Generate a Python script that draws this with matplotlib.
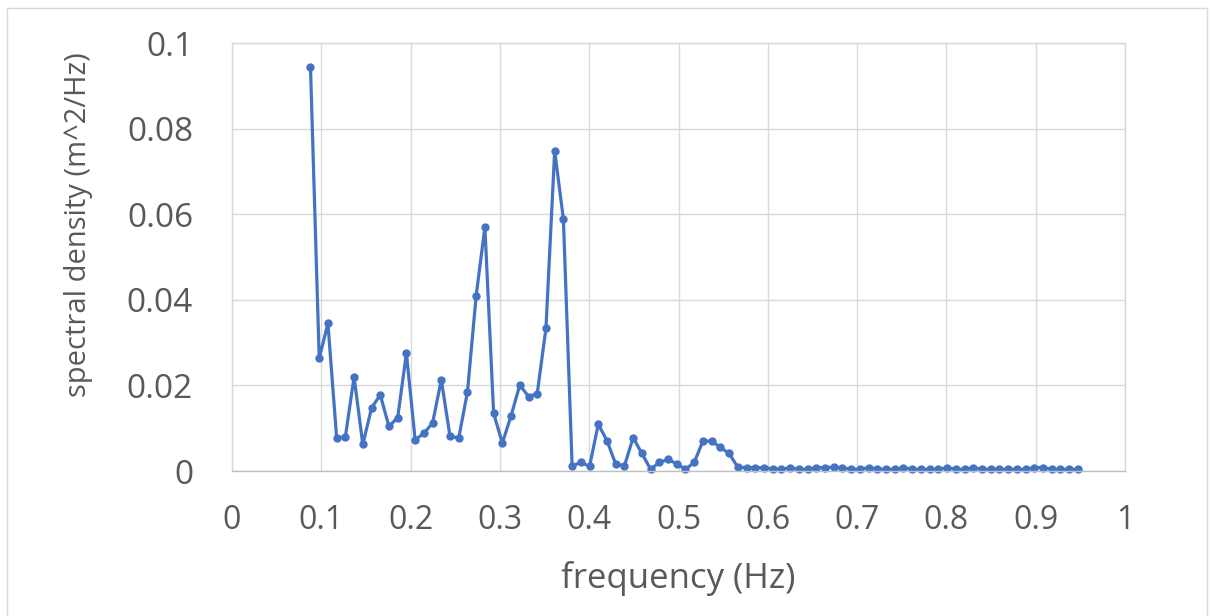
import numpy as np
import matplotlib.pyplot as plt
from matplotlib.patches import Rectangle

# frequency bins (evenly spaced FFT bins, df = 1/102.4 Hz), bins 9..97
bin_first = 9
bin_last = 97
df = 1.0 / 102.4

psd = [0.0944, 0.0263, 0.0345, 0.0077, 0.0080, 0.0220, 0.0062, 0.0147, 0.0178, 0.0104,
       0.0125, 0.0275, 0.0073, 0.0088, 0.0112, 0.0213, 0.0081, 0.0077, 0.0185, 0.0410,
       0.0570, 0.0135, 0.0065, 0.0129, 0.0201, 0.0174, 0.0181, 0.0333, 0.0748, 0.0589,
       0.0012, 0.0020, 0.0011, 0.0109, 0.0071, 0.0016, 0.0012, 0.0078, 0.0041, 0.0004,
       0.0020, 0.0027, 0.0017, 0.0004, 0.0020, 0.0070, 0.0070, 0.0055, 0.0041, 0.0009,
       0.0008, 0.0008, 0.0008, 0.0005, 0.0004, 0.0008, 0.0004, 0.0004, 0.0008, 0.0008,
       0.0009, 0.0008, 0.0004, 0.0004, 0.0008, 0.0005, 0.0004, 0.0004, 0.0008, 0.0004,
       0.0004, 0.0004, 0.0004, 0.0008, 0.0004, 0.0004, 0.0008, 0.0004, 0.0004, 0.0004,
       0.0004, 0.0004, 0.0004, 0.0008, 0.0008, 0.0004, 0.0004, 0.0004, 0.0004]

freq = np.arange(bin_first, bin_last + 1) * df

xticks = [0, 0.1, 0.2, 0.3, 0.4, 0.5, 0.6, 0.7, 0.8, 0.9, 1]
xticklabels = ["0", "0.1", "0.2", "0.3", "0.4", "0.5", "0.6", "0.7", "0.8", "0.9", "1"]
yticks = [0, 0.02, 0.04, 0.06, 0.08, 0.1]
yticklabels = ["0", "0.02", "0.04", "0.06", "0.08", "0.1"]

plt.rcParams['font.family'] = ['Open Sans', 'DejaVu Sans']
txt = '#595959'
grid_c = '#d9d9d9'

fig = plt.figure(figsize=(12.12, 6.16), dpi=100)
# light chart border
fig.patches.append(Rectangle((7 / 1212, -0.05), 1200 / 1212, 1.05 - 8 / 616,
                             transform=fig.transFigure, fill=False,
                             edgecolor='#d9d9d9', linewidth=1))
ax = fig.add_axes([232 / 1212, 1 - 471 / 616, 893 / 1212, 428 / 616])

ax.plot(freq, psd, '-', color='#4472C4', linewidth=2.3, marker='o',
        markersize=5, clip_on=False)

ax.set_xlim(0, 1)
ax.set_ylim(0, 0.1)
ax.set_xticks(xticks)
ax.set_xticklabels(xticklabels)
ax.set_yticks(yticks)
ax.set_yticklabels(yticklabels)
ax.tick_params(length=0, labelcolor=txt)
ax.tick_params(axis='x', pad=24, labelsize=23)
ax.tick_params(axis='y', pad=28, labelsize=24)
ax.grid(True, color=grid_c, linewidth=1)
ax.set_axisbelow(True)
for s in ['top', 'right', 'left']:
    ax.spines[s].set_color(grid_c)
    ax.spines[s].set_linewidth(1)
ax.spines['bottom'].set_color('#bfbfbf')
ax.spines['bottom'].set_linewidth(1)

ax.set_xlabel("frequency (Hz)", fontsize=25, color=txt, labelpad=17)
ax.set_ylabel("spectral density (m^2/Hz)", fontsize=21, color=txt)
ax.yaxis.set_label_coords(-0.156, 0.575)

plt.savefig("out.png", dpi=100)
plt.close()
